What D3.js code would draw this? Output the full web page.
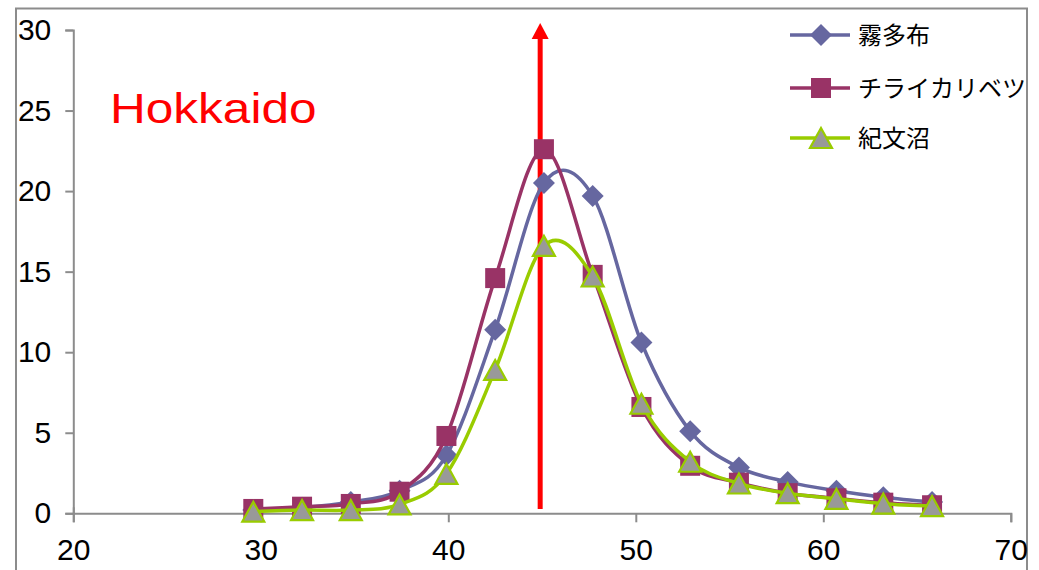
<!DOCTYPE html>
<html><head><meta charset="utf-8">
<script src="https://cdnjs.cloudflare.com/ajax/libs/d3/7.8.5/d3.min.js"></script>
<style>
html,body{margin:0;padding:0;background:#fff;}
svg{display:block;}
</style></head>
<body>
<svg id="chart" width="1039" height="570"></svg>
<script>
const xValues = [29.6, 32.2, 34.8, 37.4, 39.9, 42.5, 45.1, 47.7, 50.3, 52.9, 55.5, 58.1, 60.7, 63.2, 65.8];
const seriesNames = ["霧多布", "チライカリベツ", "紀文沼"];
const kiritappu = [0.2, 0.35, 0.7, 1.4, 3.6, 11.4, 20.5, 19.7, 10.6, 5.1, 2.85, 1.95, 1.4, 1.0, 0.7];
const chiraikaribetsu = [0.27, 0.41, 0.58, 1.34, 4.8, 14.6, 22.6, 14.8, 6.6, 2.95, 1.9, 1.25, 0.93, 0.66, 0.5];
const kibunnuma = [0.1, 0.2, 0.2, 0.55, 2.45, 8.9, 16.6, 14.7, 6.8, 3.2, 1.85, 1.25, 0.9, 0.6, 0.45];
const xTicks = [20, 30, 40, 50, 60, 70];
const yTicks = [0, 5, 10, 15, 20, 25, 30];
const arrowX = 44.9;
const title = "Hokkaido";

const svg = d3.select("#chart");
const x = d3.scaleLinear().domain([20, 70]).range([73.3, 1010.8]);
const y = d3.scaleLinear().domain([0, 30]).range([513.3, 30]);

// outer frame
svg.append("rect").attr("x", 16).attr("y", 8.5).attr("width", 1011).attr("height", 600)
  .attr("fill", "none").attr("stroke", "#8c8c8c").attr("stroke-width", 2);

const axisFont = "'Liberation Sans Narrow', 'Arial Narrow', 'Liberation Sans', sans-serif";

// y axis
const yAxis = svg.append("g").attr("transform", `translate(${x(20)},0)`)
  .call(d3.axisLeft(y).tickValues(yTicks).tickSize(8).tickPadding(14));
// x axis
const xAxis = svg.append("g").attr("transform", `translate(0,${y(0)})`)
  .call(d3.axisBottom(x).tickValues(xTicks).tickSize(9).tickPadding(16));
[yAxis, xAxis].forEach(a => {
  a.select(".domain").attr("stroke", "#8c8c8c").attr("stroke-width", 2);
  a.selectAll(".tick line").attr("stroke", "#8c8c8c").attr("stroke-width", 2);
  a.selectAll(".tick text").attr("fill", "#000").style("font-family", axisFont).style("font-size", "30px");
});
xAxis.select(".tick line").attr("y1", -6);

// red arrow
svg.append("line").attr("x1", x(arrowX)).attr("x2", x(arrowX)).attr("y1", 509).attr("y2", 36)
  .attr("stroke", "#ff0000").attr("stroke-width", 5);
svg.append("path").attr("d", `M${x(arrowX)},23 L${x(arrowX) - 8.5},39 L${x(arrowX) + 8.5},39 Z`).attr("fill", "#ff0000");

// title
svg.append("text").attr("x", 110).attr("y", 123)
  .attr("transform", "translate(110,123) scale(1.18,1) translate(-110,-123)")
  .attr("fill", "#ff0000").style("font-family", "'Liberation Sans', Arial, sans-serif").style("font-size", "42px")
  .text(title);

const series = [
  {name: seriesNames[0], values: kiritappu, color: "#6667a0", marker: "diamond"},
  {name: seriesNames[1], values: chiraikaribetsu, color: "#993366", marker: "square"},
  {name: seriesNames[2], values: kibunnuma, color: "#99cc00", marker: "triangle"}
];

function drawMarker(g, type, cx, cy, color) {
  if (type === "diamond") {
    g.append("path").attr("d", `M${cx},${cy - 11} L${cx + 11},${cy} L${cx},${cy + 11} L${cx - 11},${cy} Z`)
      .attr("fill", color);
  } else if (type === "square") {
    g.append("rect").attr("x", cx - 10).attr("y", cy - 10).attr("width", 20).attr("height", 20).attr("fill", color);
  } else {
    g.append("path").attr("d", `M${cx},${cy - 10} L${cx + 11},${cy + 10} L${cx - 11},${cy + 10} Z`)
      .attr("fill", "#999999").attr("stroke", color).attr("stroke-width", 2.2).attr("stroke-linejoin", "miter");
  }
}

const line = d3.line().x(d => x(d[0])).y(d => y(d[1])).curve(d3.curveCardinal.tension(0));
series.forEach(s => {
  const g = svg.append("g");
  const pts = xValues.map((xv, i) => [xv, s.values[i]]);
  g.append("path").attr("d", line(pts)).attr("fill", "none").attr("stroke", s.color).attr("stroke-width", 3.5);
  pts.forEach(p => drawMarker(g, s.marker, x(p[0]), y(p[1]), s.color));
});

// legend
const legendY = [35, 88, 138];
series.forEach((s, i) => {
  const g = svg.append("g");
  g.append("line").attr("x1", 790).attr("x2", 850).attr("y1", legendY[i]).attr("y2", legendY[i])
    .attr("stroke", s.color).attr("stroke-width", 3.5);
  drawMarker(g, s.marker, 821, legendY[i], s.color);
  g.append("text").attr("x", 858).attr("y", legendY[i]).attr("dy", "0.36em")
    .style("font-family", "'Noto Sans CJK JP', sans-serif").style("font-size", "24px").attr("fill", "#000")
    .text(s.name);
});
</script>
</body></html>
